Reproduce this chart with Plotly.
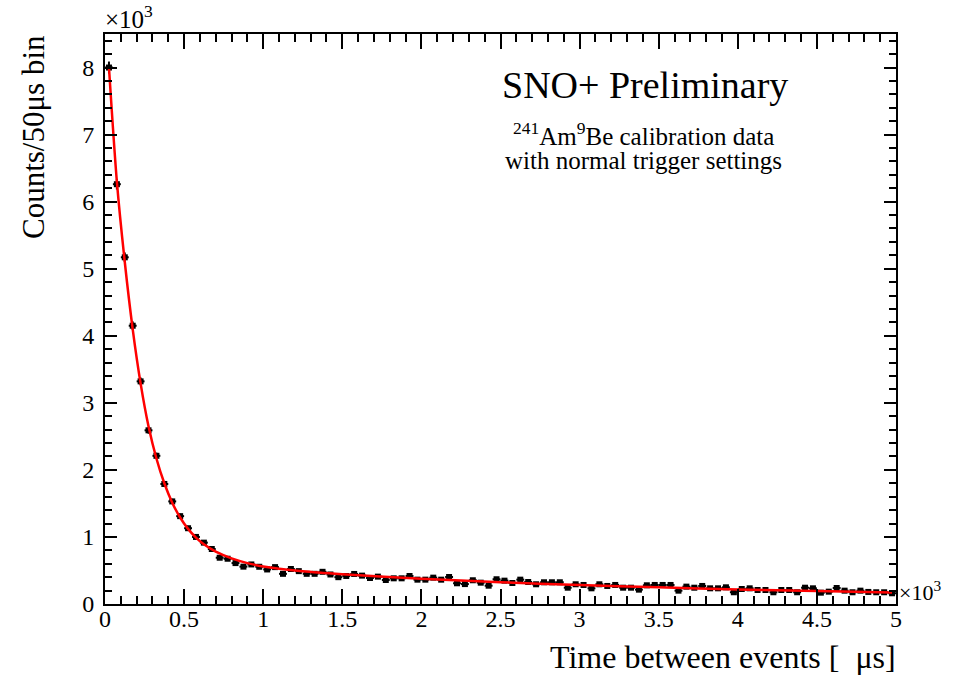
import numpy as np
import plotly.graph_objects as go

# Bin centres (microseconds) and counts per 50 us bin
bin_centers = [25 + 50 * i for i in range(100)]
counts = [
    8000, 6260, 5170, 4150, 3320, 2590, 2210, 1790, 1530, 1310,
    1130, 1000, 915, 820, 690, 675, 610, 557, 590, 555,
    515, 550, 450, 522, 490, 450, 450, 480, 440, 400,
    418, 448, 423, 388, 408, 358, 383, 383, 418, 363,
    363, 393, 363, 403, 309, 297, 354, 318, 273, 369,
    348, 313, 363, 328, 294, 324, 324, 324, 243, 294,
    284, 234, 294, 269, 284, 243, 243, 214, 279, 284,
    284, 284, 199, 259, 243, 269, 234, 234, 249, 175,
    224, 234, 209, 209, 175, 209, 209, 175, 243, 234,
    169, 184, 239, 199, 175, 199, 180, 175, 175, 160,
]
half_bin = [25] * len(bin_centers)

# Fit curve
fit_t = [25, 75, 125, 175, 225, 275, 325, 375, 425, 475, 525, 575, 625,
         700, 800, 900, 1000, 1250, 1500, 2000, 2500, 3000, 3500, 4000,
         4500, 4975]
fit_y = [8000, 6300, 5100, 4100, 3290, 2650, 2170, 1800, 1510, 1290, 1120,
         990, 890, 780, 680, 610, 560, 490, 445, 375, 325, 282, 248, 218,
         192, 172]

x_tickvals = [0, 500, 1000, 1500, 2000, 2500, 3000, 3500, 4000, 4500, 5000]
x_ticktext = ["0", "0.5", "1", "1.5", "2", "2.5", "3", "3.5", "4", "4.5", "5"]
y_tickvals = [0, 1000, 2000, 3000, 4000, 5000, 6000, 7000, 8000]
y_ticktext = ["0", "1", "2", "3", "4", "5", "6", "7", "8"]

FONT = "Liberation Serif"

fig = go.Figure()
fig.add_trace(go.Scatter(
    x=bin_centers, y=counts, mode="markers",
    marker=dict(symbol="square", size=6, color="black"),
    error_x=dict(type="data", array=half_bin, color="black", thickness=2, width=0),
    error_y=dict(type="data", array=list(np.sqrt(counts)), color="black", thickness=2, width=0),
    showlegend=False,
))
fig.add_trace(go.Scatter(
    x=fit_t, y=fit_y, mode="lines",
    line=dict(color="#ff0000", width=2.5, shape="spline", smoothing=0.8),
    showlegend=False,
))

W, H = 974, 677
L, R, T, B = 105, 78, 34, 73

fig.update_xaxes(
    range=[0, 5000], tickmode="array", tickvals=x_tickvals, ticktext=x_ticktext,
    showline=True, linecolor="black", linewidth=2, mirror="ticks",
    ticks="inside", tickcolor="black", tickwidth=2, ticklen=15,
    showgrid=False, zeroline=False,
    tickfont=dict(family=FONT, size=24, color="black"),
    ticklabelstandoff=-8,
    minor=dict(dtick=100, ticklen=8, tickwidth=2, ticks="inside", tickcolor="black", showgrid=False),
)
fig.update_yaxes(
    range=[0, 8500], tickmode="array", tickvals=y_tickvals, ticktext=y_ticktext,
    showline=True, linecolor="black", linewidth=2, mirror="ticks",
    ticks="inside", tickcolor="black", tickwidth=2, ticklen=12,
    showgrid=False, zeroline=False,
    tickfont=dict(family=FONT, size=24, color="black"),
    ticklabelstandoff=4,
    minor=dict(dtick=200, ticklen=7, tickwidth=2, ticks="inside", tickcolor="black", showgrid=False),
)

def px(xp):
    return (xp - L) / (W - L - R)

def py(yp):
    return 1 - (yp - T) / (H - T - B)

annotations = [
    dict(text="×10<sup>3</sup>", x=px(103), y=py(35), xanchor="left", yanchor="bottom",
         font=dict(family=FONT, size=25, color="black")),
    dict(text="×10<sup>3</sup>", x=px(897), y=py(607), xanchor="left", yanchor="bottom",
         font=dict(family=FONT, size=22, color="black")),
    dict(text="SNO+ Preliminary", x=px(645), y=py(85), xanchor="center", yanchor="middle",
         font=dict(family=FONT, size=38, color="black")),
    dict(text="<sup>241</sup>Am<sup>9</sup>Be calibration data", x=px(643), y=py(134),
         xanchor="center", yanchor="middle", font=dict(family=FONT, size=25, color="black")),
    dict(text="with normal trigger settings", x=px(643), y=py(160),
         xanchor="center", yanchor="middle", font=dict(family=FONT, size=25, color="black")),
    dict(text="Time between events [\u00a0\u00a0μs]", x=px(898), y=py(657), xanchor="right",
         yanchor="middle", font=dict(family=FONT, size=32, color="black")),
    dict(text="Counts/50μs bin", x=px(33), y=py(33), xanchor="center", yanchor="top",
         textangle=-90, font=dict(family=FONT, size=31, color="black")),
]
for a in annotations:
    a.update(xref="paper", yref="paper", showarrow=False)

fig.update_layout(
    width=W, height=H, margin=dict(l=L, r=R, t=T, b=B),
    plot_bgcolor="white", paper_bgcolor="white",
    font=dict(family=FONT, color="black"),
    annotations=annotations,
)

fig.write_html("out.html")
